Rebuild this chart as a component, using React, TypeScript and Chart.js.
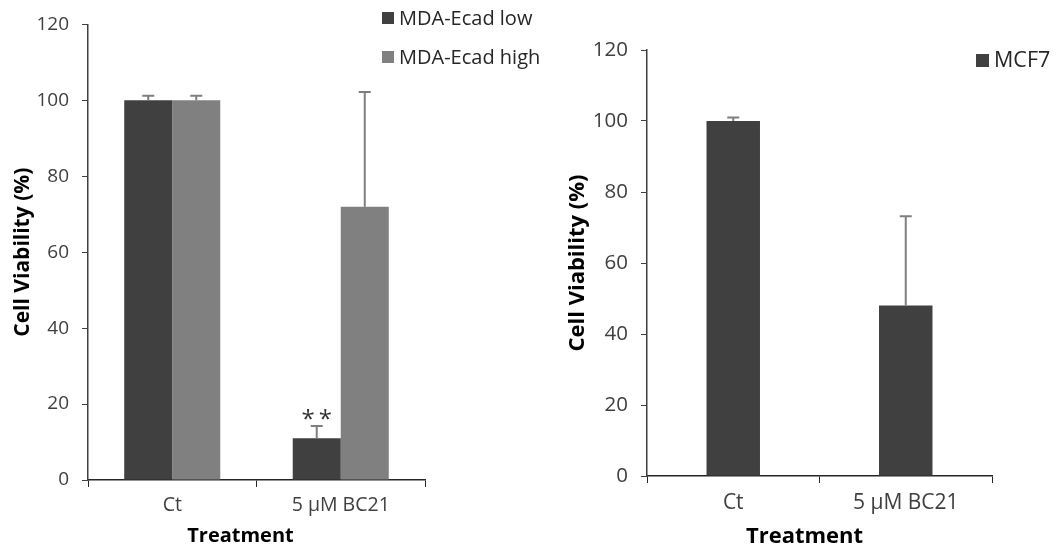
import React, { useEffect, useRef } from "react";
import { Chart, registerables } from "chart.js";

Chart.register(...registerables);

// ---- data ----
const categories = ["Ct", "5 µM BC21"];
const mdaLowValues = [100, 11];
const mdaLowErrors = [1.2, 3.2];
const mdaHighValues = [100, 72];
const mdaHighErrors = [1.2, 30.2];
const mdaLowMarks = ["", "*\u2009*"];
const mcf7Values = [100, 48];
const mcf7Errors = [1, 25.2];
const yTicks = [0, 20, 40, 60, 80, 100, 120];
const yTitle = "Cell Viability (%)";
const xTitle = "Treatment";

const FONT = "'Open Sans', 'DejaVu Sans', sans-serif";
const DARK = "#404040";
const LIGHT = "#808080";

const errorBarPlugin = {
  id: "errorBars",
  afterDatasetsDraw(chart: any) {
    const ctx = chart.ctx;
    const yScale = chart.scales.y;
    chart.data.datasets.forEach((ds: any, di: number) => {
      const meta = chart.getDatasetMeta(di);
      if (!ds.errors) return;
      meta.data.forEach((el: any, i: number) => {
        const v = ds.data[i];
        const e = ds.errors[i];
        const yTop = yScale.getPixelForValue(v + e);
        ctx.save();
        ctx.strokeStyle = "#7f7f7f";
        ctx.lineWidth = 2;
        ctx.beginPath();
        ctx.moveTo(el.x, el.y);
        ctx.lineTo(el.x, yTop);
        ctx.moveTo(el.x - 6, yTop);
        ctx.lineTo(el.x + 6, yTop);
        ctx.stroke();
        if (ds.marks && ds.marks[i]) {
          ctx.fillStyle = "#333333";
          ctx.font = `24px ${FONT}`;
          ctx.textAlign = "center";
          ctx.textBaseline = "alphabetic";
          ctx.fillText(ds.marks[i], el.x, yTop + 1);
        }
        ctx.restore();
      });
    });
  },
};

const legendTitlePlugin = {
  id: "legendTitle",
  afterDraw(chart: any, _args: any, opts: any) {
    const ctx = chart.ctx;
    ctx.save();
    chart.data.datasets.forEach((ds: any, i: number) => {
      const y = opts.legendY + i * opts.legendGap;
      ctx.fillStyle = ds.backgroundColor;
      ctx.fillRect(opts.legendX, y - 6, opts.box, opts.box);
      ctx.fillStyle = "#262626";
      ctx.font = `${opts.legendSize}px ${FONT}`;
      ctx.textAlign = "left";
      ctx.textBaseline = "middle";
      ctx.fillText(ds.label, opts.legendX + opts.box + 5, y + 1);
    });
    const ca = chart.chartArea;
    ctx.fillStyle = "#000";
    ctx.font = `bold ${opts.xTitleSize}px ${FONT}`;
    ctx.textAlign = "center";
    ctx.textBaseline = "middle";
    ctx.fillText(xTitle, (ca.left + ca.right) / 2 + opts.xTitleShift, opts.xTitleY);
    ctx.restore();
  },
};

function makeOptions(p: {
  padTop: number;
  padRight: number;
  yWidth: number;
  xHeight: number;
  fontSize: number;
  xFontSize: number;
  titlePad: number;
  titleSize: number;
  plug: any;
}) {
  return {
    responsive: false,
    animation: false,
    devicePixelRatio: 1,
    layout: { padding: { left: 0, top: p.padTop, right: p.padRight, bottom: 0 } },
    plugins: {
      legend: { display: false },
      tooltip: { enabled: false },
      legendTitle: p.plug,
    },
    scales: {
      x: {
        afterFit: (s: any) => {
          s.height = p.xHeight;
        },
        grid: {
          display: true,
          drawOnChartArea: false,
          drawTicks: true,
          tickLength: 7,
          color: "#262626",
          offset: true,
        },
        border: { display: true, color: "#262626", width: 1.5 },
        ticks: {
          color: "#404040",
          font: { family: FONT, size: p.xFontSize },
          padding: 7,
        },
      },
      y: {
        min: 0,
        max: 120,
        afterBuildTicks: (s: any) => {
          s.ticks = yTicks.map((v) => ({ value: v }));
        },
        afterFit: (s: any) => {
          s.width = p.yWidth;
        },
        grid: {
          display: true,
          drawOnChartArea: false,
          drawTicks: true,
          tickLength: 6,
          color: "#404040",
        },
        border: { display: true, color: "#404040", width: 1.5 },
        ticks: {
          color: "#404040",
          font: { family: FONT, size: p.fontSize },
          padding: 13,
        },
        title: {
          display: true,
          text: yTitle,
          color: "#000",
          font: { family: FONT, size: p.titleSize, weight: "bold" },
          padding: { top: p.titlePad, bottom: 0 },
        },
      },
    },
  } as any;
}

export default function App() {
  const leftRef = useRef<HTMLCanvasElement>(null);
  const rightRef = useRef<HTMLCanvasElement>(null);

  useEffect(() => {
    const left = new Chart(leftRef.current!, {
      type: "bar",
      data: {
        labels: categories,
        datasets: [
          {
            label: "MDA-Ecad low",
            data: mdaLowValues,
            backgroundColor: DARK,
            errors: mdaLowErrors,
            marks: mdaLowMarks,
            categoryPercentage: 0.57,
            barPercentage: 1,
          } as any,
          {
            label: "MDA-Ecad high",
            data: mdaHighValues,
            backgroundColor: LIGHT,
            errors: mdaHighErrors,
            categoryPercentage: 0.57,
            barPercentage: 1,
          } as any,
        ],
      },
      options: makeOptions({
        padTop: 24,
        padRight: 135,
        yWidth: 88,
        xHeight: 72,
        fontSize: 19,
        xFontSize: 19.5,
        titlePad: 10,
        titleSize: 21,
        plug: {
          legendX: 382,
          legendY: 18,
          legendGap: 39,
          legendSize: 20,
          box: 12,
          xTitleShift: -16,
          xTitleY: 536,
          xTitleSize: 20,
        },
      }),
      plugins: [errorBarPlugin, legendTitlePlugin],
    });

    const right = new Chart(rightRef.current!, {
      type: "bar",
      data: {
        labels: categories,
        datasets: [
          {
            label: "MCF7",
            data: mcf7Values,
            backgroundColor: DARK,
            errors: mcf7Errors,
            categoryPercentage: 0.31,
            barPercentage: 1,
          } as any,
        ],
      },
      options: makeOptions({
        padTop: 50,
        padRight: 67,
        yWidth: 107,
        xHeight: 76,
        fontSize: 20.5,
        xFontSize: 21,
        titlePad: 25,
        titleSize: 22,
        plug: {
          legendX: 436,
          legendY: 60,
          legendGap: 39,
          legendSize: 21.5,
          box: 13,
          xTitleShift: -15,
          xTitleY: 537,
          xTitleSize: 22,
        },
      }),
      plugins: [errorBarPlugin, legendTitlePlugin],
    });

    return () => {
      left.destroy();
      right.destroy();
    };
  }, []);

  return (
    <div
      style={{
        position: "fixed",
        left: 0,
        top: 0,
        width: 1059,
        height: 552,
        background: "#fff",
        overflow: "hidden",
      }}
    >
      <canvas
        ref={leftRef}
        width={560}
        height={552}
        style={{ position: "absolute", left: 0, top: 0, width: 560, height: 552 }}
      />
      <canvas
        ref={rightRef}
        width={519}
        height={552}
        style={{ position: "absolute", left: 540, top: 0, width: 519, height: 552 }}
      />
    </div>
  );
}
